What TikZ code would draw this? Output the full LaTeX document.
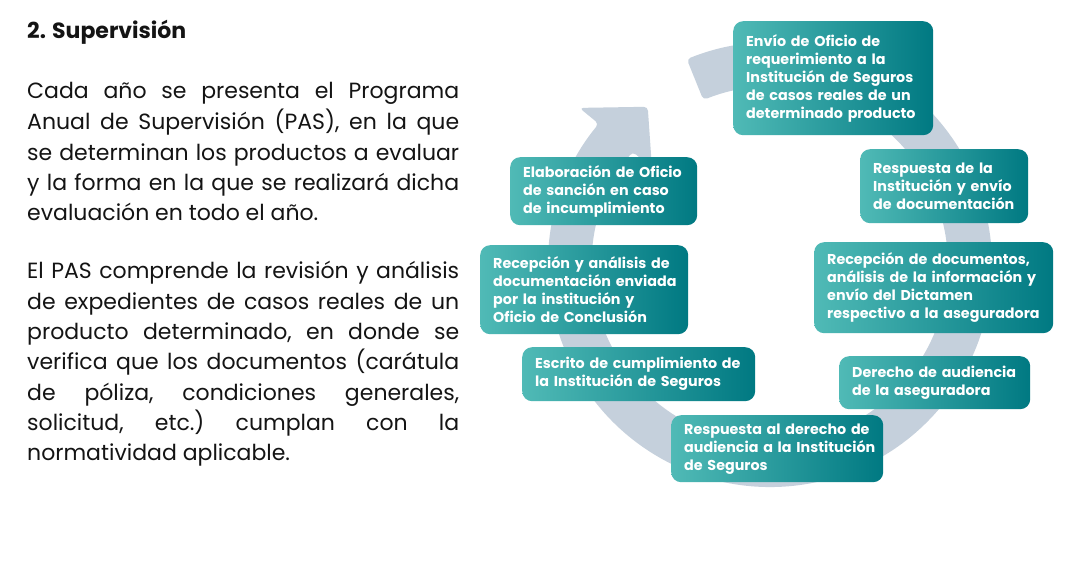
\documentclass[tikz,border=0pt]{standalone}
\usepackage{fontspec}
\setmainfont{Poppins}
\usetikzlibrary{calc}
\definecolor{ringc}{RGB}{197,208,220}
\definecolor{tealL}{RGB}{80,186,182}
\definecolor{tealR}{RGB}{0,121,130}
\definecolor{txt}{RGB}{20,20,20}
\begin{document}
\begin{tikzpicture}[x=1pt,y=-1pt,
 stepbox/.style={rounded corners=10pt, left color=tealL, right color=tealR, draw=none, text=white,
   font=\bfseries\fontsize{14.3}{18}\selectfont, align=left, inner xsep=13pt, inner ysep=0pt, anchor=north west},
 body/.style={anchor=base west, inner sep=0pt, font=\frenchspacing\fontsize{22}{30.5}\selectfont, text=txt}]
\useasboundingbox[fill=white] (0,0) rectangle (1076,570);
% ring arrow
\coordinate (C) at (770,265);
\coordinate (W1) at ($(C)+(219.5:247)$);
\coordinate (T) at ($(C)+(232.3:200)$);
\coordinate (W2) at ($(C)+(219.5:153)$);
\fill[ringc, rounded corners=4pt] ($(C)+(-112:222)$) arc[start angle=-112, end angle=219.5, radius=222]
  -- (W1) -- (T) -- (W2) -- ($(C)+(219.5:178)$) arc[start angle=219.5, end angle=-112, radius=178] -- cycle;
% left text
\node[body, font=\bfseries\fontsize{22}{26}\selectfont] (title) at (27,38) {2. Supervisión};
\node[body] (l1) at (27,98) {\makebox[432pt][s]{Cada año se presenta el Programa}};
\node[body] (l2) at (27,129) {\makebox[432pt][s]{Anual de Supervisión (PAS), en la que}};
\node[body] (l3) at (27,160) {\makebox[432pt][s]{se determinan los productos a evaluar}};
\node[body] (l4) at (27,190) {\makebox[432pt][s]{y la forma en la que se realizará dicha}};
\node[body] (l5) at (27,220) {evaluación en todo el año.};
\node[body] (m1) at (27,278) {\makebox[432pt][s]{El PAS comprende la revisión y análisis}};
\node[body] (m2) at (27,309) {\makebox[432pt][s]{de expedientes de casos reales de un}};
\node[body] (m3) at (27,339) {\makebox[432pt][s]{producto determinado, en donde se}};
\node[body] (m4) at (27,369) {\makebox[432pt][s]{verifica que los documentos (carátula}};
\node[body] (m5) at (27,400) {\makebox[432pt][s]{de póliza, condiciones generales,}};
\node[body] (m6) at (27,430) {\makebox[432pt][s]{solicitud, etc.) cumplan con la}};
\node[body] (m7) at (27,460) {normatividad aplicable.};
% boxes
\node[stepbox, minimum width=200pt, minimum height=114pt, text width=174pt] (b1) at (733,21)
 {\mbox{Envío de Oficio de}\\\mbox{requerimiento a la}\\\mbox{Institución de Seguros}\\\mbox{de casos reales de un}\\\mbox{determinado producto}};
\node[stepbox, minimum width=168pt, minimum height=74pt, text width=142pt] (b2) at (860,149)
 {\mbox{Respuesta de la}\\\mbox{Institución y envío}\\\mbox{de documentación}};
\node[stepbox, minimum width=239pt, minimum height=91pt, text width=213pt] (b3) at (814,242)
 {\mbox{Recepción de documentos,}\\\mbox{análisis de la información y}\\\mbox{envío del Dictamen}\\\mbox{respectivo a la aseguradora}};
\node[stepbox, minimum width=191pt, minimum height=53pt, text width=165pt] (b4) at (839,356)
 {\mbox{Derecho de audiencia}\\\mbox{de la aseguradora}};
\node[stepbox, minimum width=212pt, minimum height=67pt, text width=186pt] (b5) at (671,415)
 {\mbox{Respuesta al derecho de}\\\mbox{audiencia a la Institución}\\\mbox{de Seguros}};
\node[stepbox, minimum width=233pt, minimum height=54pt, text width=207pt] (b6) at (522,347)
 {\mbox{Escrito de cumplimiento de}\\\mbox{la Institución de Seguros}};
\node[stepbox, minimum width=208pt, minimum height=89pt, text width=182pt] (b7) at (480,245)
 {\mbox{Recepción y análisis de}\\\mbox{documentación enviada}\\\mbox{por la institución y}\\\mbox{Oficio de Conclusión}};
\node[stepbox, minimum width=187pt, minimum height=68pt, text width=161pt] (b8) at (510,157)
 {\mbox{Elaboración de Oficio}\\\mbox{de sanción en caso}\\\mbox{de incumplimiento}};
\end{tikzpicture}
\end{document}
